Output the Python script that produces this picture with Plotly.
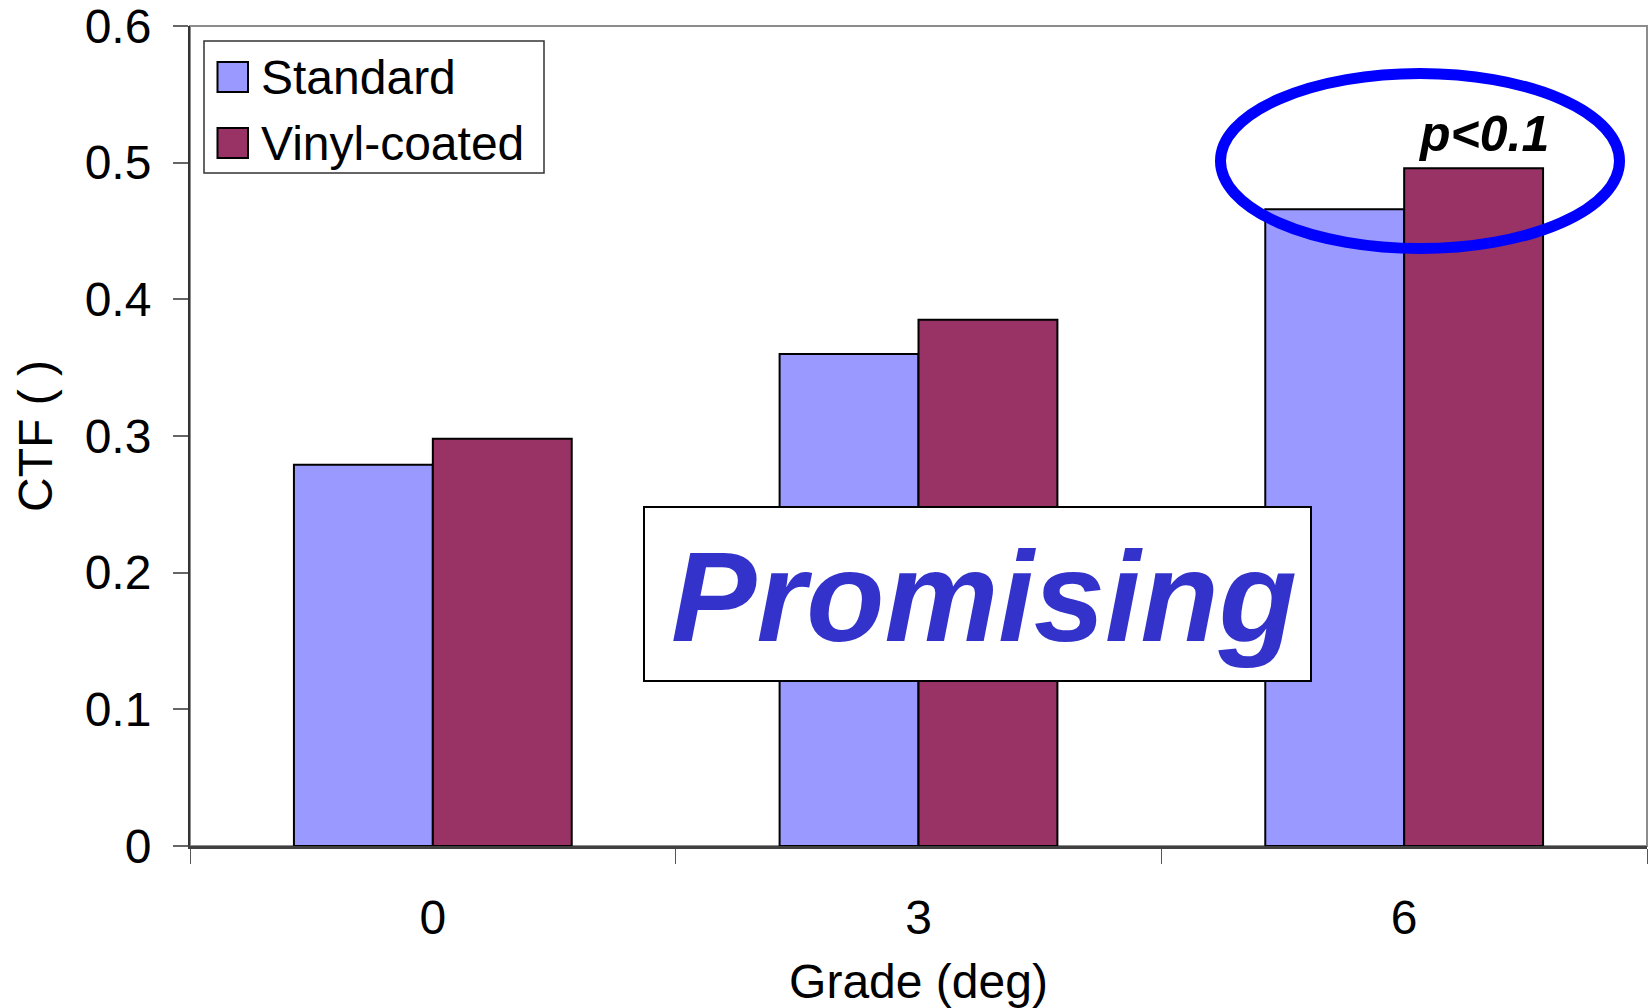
import plotly.graph_objects as go

# Grade categories and CTF values per series
grades = ["0", "3", "6"]
series_names = ["Standard", "Vinyl-coated"]
standard_ctf = [0.279, 0.360, 0.466]
vinyl_ctf = [0.298, 0.385, 0.496]
series_colors = ["#9999FF", "#993366"]
y_ticks = [0, 0.1, 0.2, 0.3, 0.4, 0.5, 0.6]

W, H = 1652, 1008
L, R, T, B = 190, 5, 26, 162
PW, PH = W - L - R, H - T - B
FONT = "Liberation Sans, Arial, sans-serif"


def px_x(x):
    return (x - L) / PW


def px_y(y):
    return (H - B - y) / PH


fig = go.Figure()
for name, vals, col in zip(series_names, [standard_ctf, vinyl_ctf], series_colors):
    fig.add_trace(go.Bar(
        x=grades, y=vals, name=name, showlegend=False,
        marker=dict(color=col, line=dict(color="#000000", width=2)),
    ))

shapes = []
annotations = []

# plot frame (top and right edges)
shapes.append(dict(type="rect", xref="paper", yref="paper", x0=0, x1=1, y0=0, y1=1,
                   line=dict(color="#8c8c8c", width=2), layer="below"))

# legend box with swatches
shapes.append(dict(type="rect", xref="paper", yref="paper",
                   x0=px_x(204), x1=px_x(544), y0=px_y(173), y1=px_y(41),
                   line=dict(color="#333333", width=1.5), fillcolor="white"))
for i, (name, col) in enumerate(zip(series_names, series_colors)):
    cy = 77 + 66 * i
    shapes.append(dict(type="rect", xref="paper", yref="paper",
                       x0=px_x(217.5), x1=px_x(248), y0=px_y(cy + 15), y1=px_y(cy - 15),
                       line=dict(color="#000000", width=2), fillcolor=col))
    annotations.append(dict(xref="paper", yref="paper", x=px_x(259), y=px_y(cy),
                            xanchor="left", yanchor="middle", text=name, showarrow=False,
                            font=dict(family=FONT, size=48, color="black")))

# "Promising" callout box
shapes.append(dict(type="rect", xref="paper", yref="paper",
                   x0=px_x(644), x1=px_x(1311), y0=px_y(681), y1=px_y(507),
                   line=dict(color="#000000", width=2), fillcolor="white"))
annotations.append(dict(xref="paper", yref="paper", x=px_x(984), y=px_y(596),
                        xanchor="center", yanchor="middle", text="Promising", showarrow=False,
                        font=dict(family=FONT, size=128, color="#3333CC",
                                  weight="bold", style="italic")))

# significance ellipse and label around grade 6
shapes.append(dict(type="circle", xref="paper", yref="paper",
                   x0=px_x(1220.5), x1=px_x(1619.5), y0=px_y(248.5), y1=px_y(73.5),
                   line=dict(color="#0000FF", width=11)))
annotations.append(dict(xref="paper", yref="paper", x=px_x(1483), y=px_y(134),
                        xanchor="center", yanchor="middle", text="p&lt;0.1", showarrow=False,
                        font=dict(family=FONT, size=50, color="black",
                                  weight="bold", style="italic")))

fig.update_layout(
    width=W, height=H,
    margin=dict(l=L, r=R, t=T, b=B, autoexpand=False),
    paper_bgcolor="white", plot_bgcolor="white",
    barmode="group", bargap=0.428, bargroupgap=0,
    showlegend=False,
    font=dict(family=FONT, size=48, color="black"),
    shapes=shapes, annotations=annotations,
    xaxis=dict(
        type="category", categoryorder="array", categoryarray=grades,
        tickson="boundaries", ticks="outside", ticklen=15, tickwidth=1, tickcolor="#555555",
        showline=True, linecolor="#404040", linewidth=3,
        showgrid=False, zeroline=False, automargin=False,
        tickfont=dict(family=FONT, size=48, color="black"),
        ticklabelstandoff=27,
        title=dict(text="Grade (deg)", font=dict(family=FONT, size=48, color="black"), standoff=24),
    ),
    yaxis=dict(
        range=[0, 0.6], tickvals=y_ticks, ticktext=[f"{v:g}" for v in y_ticks],
        ticks="outside", ticklen=15, tickwidth=2, tickcolor="#666666",
        showline=True, linecolor="#333333", linewidth=2,
        showgrid=False, zeroline=False, automargin=False,
        tickfont=dict(family=FONT, size=48, color="black"),
        ticklabelstandoff=12, ticklabeloverflow="allow",
        title=dict(text="CTF ( )", font=dict(family=FONT, size=48, color="black"), standoff=17),
    ),
)

fig.write_html("out.html")
